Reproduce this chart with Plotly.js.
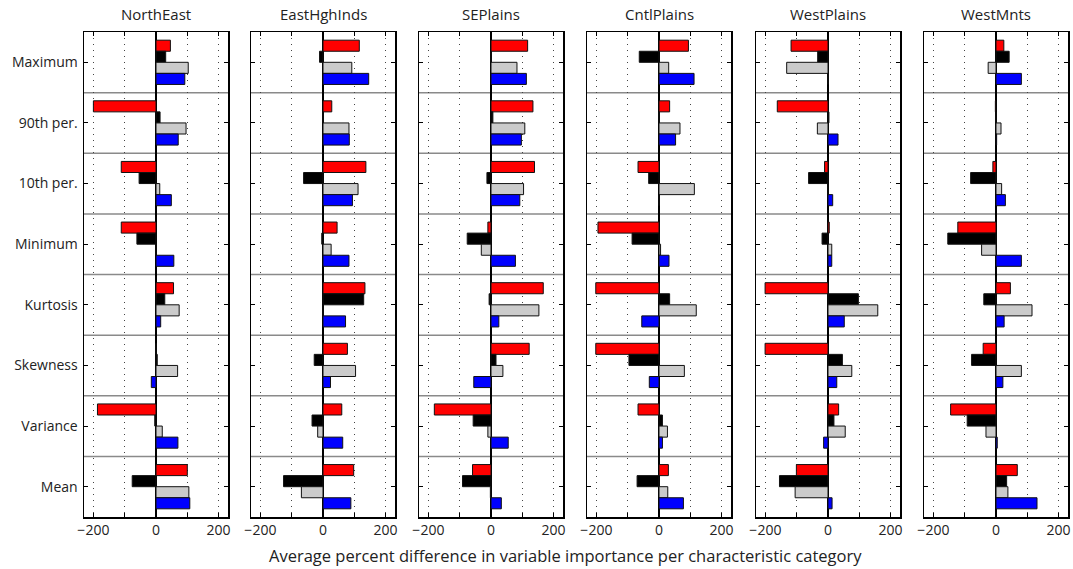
<!DOCTYPE html>
<html>
<head>
<meta charset="utf-8">
<script src="https://cdn.plot.ly/plotly-3.0.1.min.js"></script>
<style>html,body{margin:0;padding:0;background:#fff;}#chart{width:1073px;height:569px;}</style>
</head>
<body>
<div id="chart"></div>
<script>
// Panels (regions) and characteristic categories (top to bottom)
const regions = ["NorthEast", "EastHghInds", "SEPlains", "CntlPlains", "WestPlains", "WestMnts"];
const stats = ["Maximum", "90th per.", "10th per.", "Minimum", "Kurtosis", "Skewness", "Variance", "Mean"];
const xTickVals = [-200, -100, 0, 100, 200];
const xTickText = ["\u2212200", "", "0", "", "200"];

// Values per region (rows) for each of the four series (values follow `stats` order)
const redVals = [
  [46, -200, -111, -111, 56, 0, -187, 100],
  [116, 28, 137, 45, 134, 78, 60, 98],
  [117, 134, 139, -10, 167, 122, -181, -59],
  [94, 34, -67, -195, -202, -202, -67, 30],
  [-118, -162, -11, 4, -201, -201, 34, -101],
  [25, -2, -10, -122, 46, -41, -145, 68]
];
const blackVals = [
  [31, 13, -54, -61, 28, 4, -4, -76],
  [-11, 0, -62, -4, 130, -28, -35, -126],
  [0, 6, -13, -76, -6, 16, -57, -91],
  [-63, 0, -33, -86, 34, -96, 11, -70],
  [-33, 3, -62, -19, 97, 46, 19, -155],
  [42, 0, -81, -154, -39, -78, -92, 34]
];
const greyVals = [
  [103, 96, 12, 0, 74, 69, 20, 105],
  [92, 83, 112, 26, 0, 104, -17, -69],
  [83, 108, 104, -31, 153, 38, -10, -2],
  [31, 67, 113, 5, 119, 81, 27, 28],
  [-132, -34, 0, 12, 159, 76, 55, -105],
  [-25, 16, 18, -46, 115, 81, -32, 38]
];
const blueVals = [
  [92, 71, 49, 57, 15, -15, 70, 108],
  [146, 84, 94, 83, 72, 24, 63, 89],
  [113, 97, 92, 78, 25, -55, 55, 33],
  [112, 53, 0, 32, -55, -31, 11, 78],
  [0, 32, 15, 12, 52, 28, -14, 13],
  [81, 2, 30, 81, 26, 22, 4, 131]
];

const series = [
  {vals: redVals, color: "#ff0000"},
  {vals: blackVals, color: "#000000"},
  {vals: greyVals, color: "#cbcbcb"},
  {vals: blueVals, color: "#0000ff"}
];

const W = 1073;
const mL = 84, mR = 5;
const plotW = W - mL - mR;
const panelLeft = [84, 251, 419, 587, 756, 924];
const panelW = 144;
const FONT = "Open Sans, Lato, DejaVu Sans, sans-serif";

const traces = [];
const layout = {
  width: 1073, height: 569,
  margin: {l: mL, r: mR, t: 32, b: 52},
  paper_bgcolor: "#fff", plot_bgcolor: "#fff",
  barmode: "group", bargap: 0.27, bargroupgap: 0,
  showlegend: false,
  font: {family: FONT, size: 13, color: "#222"},
  shapes: [], annotations: []
};

regions.forEach((reg, p) => {
  const xa = p === 0 ? "x" : "x" + (p + 1);
  const ya = p === 0 ? "y" : "y" + (p + 1);
  series.forEach(s => {
    traces.push({
      type: "bar", orientation: "h",
      x: s.vals[p], y: stats,
      xaxis: xa, yaxis: ya,
      marker: {color: s.color, line: {color: "#111", width: 1}},
      hoverinfo: "x+y"
    });
  });
  const d0 = (panelLeft[p] - mL) / plotW;
  const d1 = (panelLeft[p] + panelW - mL) / plotW;
  const xKey = p === 0 ? "xaxis" : "xaxis" + (p + 1);
  const yKey = p === 0 ? "yaxis" : "yaxis" + (p + 1);
  layout[xKey] = {
    domain: [d0, Math.min(d1, 1)], anchor: ya,
    range: [-230, 230], tickmode: "array", tickvals: xTickVals, ticktext: xTickText,
    ticks: "inside", ticklen: 4, tickcolor: "#000",
    showline: true, linecolor: "#000", linewidth: 1.5, mirror: "allticks",
    showgrid: true, gridcolor: "#444", griddash: "1px,5px", gridwidth: 1,
    zeroline: true, zerolinecolor: "#000", zerolinewidth: 1.2,
    tickfont: {family: FONT, size: 14, color: "#222"},
    fixedrange: true
  };
  layout[yKey] = {
    anchor: xa, type: "category", categoryorder: "array", categoryarray: stats,
    range: [7.5, -0.5],
    ticks: "inside", ticklen: 4, tickcolor: "#000",
    showline: true, linecolor: "#000", linewidth: 1.5, mirror: "allticks",
    showgrid: false, zeroline: false,
    showticklabels: p === 0,
    tickfont: {family: FONT, size: 14, color: "#222"},
    ticklabelstandoff: 2,
    fixedrange: true
  };
  if (p > 0) layout[yKey].matches = "y";
  for (let k = 0; k < stats.length - 1; k++) {
    layout.shapes.push({
      type: "line", xref: xa + " domain", yref: ya,
      x0: 0, x1: 1, y0: k + 0.5, y1: k + 0.5,
      line: {color: "#8a8a8a", width: 1.5}, layer: "below"
    });
  }
  layout.annotations.push({
    text: reg, xref: xa + " domain", yref: "paper",
    x: 0.5, y: 1, yshift: 18, showarrow: false,
    xanchor: "center", yanchor: "middle",
    font: {family: FONT, size: 15, color: "#222"}
  });
});

layout.annotations.push({
  text: "Average percent difference in variable importance per characteristic category",
  xref: "paper", yref: "paper",
  x: (565 - mL) / plotW, y: 0, yshift: -38,
  showarrow: false, xanchor: "center", yanchor: "middle",
  font: {family: FONT, size: 16.5, color: "#222"}
});

Plotly.newPlot("chart", traces, layout, {displayModeBar: false, staticPlot: true});
</script>
</body>
</html>
